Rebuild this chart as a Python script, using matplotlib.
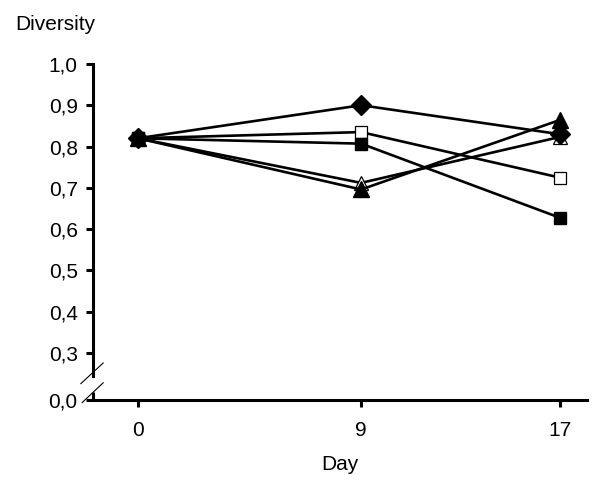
import numpy as np
import matplotlib.pyplot as plt

plt.rcParams['font.family'] = ['Liberation Sans', 'DejaVu Sans']

# data
days = [0, 9, 17]
diamond = [0.82, 0.90, 0.830]
open_square = [0.82, 0.835, 0.725]
filled_square = [0.82, 0.807, 0.628]
open_triangle = [0.82, 0.712, 0.823]
filled_triangle = [0.82, 0.696, 0.864]

ytick_vals = [0.3, 0.4, 0.5, 0.6, 0.7, 0.8, 0.9, 1.0]
ytick_labels = ['0,3', '0,4', '0,5', '0,6', '0,7', '0,8', '0,9', '1,0']

# axis is broken below 0,3; the "0,0" tick sits at this fake position
y_zero = 0.186
y_break_top = 0.244
y_break_bot = 0.205

fig = plt.figure(figsize=(6, 4.88), dpi=100)
ax = fig.add_axes([0.155, 0.180, 0.823, 0.689])

lw = 1.9
# open markers first so the filled ones sit on top where they overlap
ax.plot(days, open_square, color='black', lw=lw, marker='s', ms=9,
        mfc='white', mec='black', mew=0.9, zorder=2)
ax.plot(days, open_triangle, color='black', lw=lw, marker='^', ms=10,
        mfc='white', mec='black', mew=0.9, zorder=2)
ax.plot(days, filled_square, color='black', lw=lw, marker='s', ms=9,
        mfc='black', mec='black', zorder=3)
ax.plot(days, filled_triangle, color='black', lw=lw, marker='^', ms=11,
        mfc='black', mec='black', zorder=3)
ax.plot(days, diamond, color='black', lw=lw, marker='D', ms=10.5,
        mfc='black', mec='black', zorder=4)

ax.set_xlim(-1.81, 18.1)
ax.set_ylim(y_zero, 1.0)

ax.set_xticks(days)
ax.set_xticklabels([str(d) for d in days])
ax.set_yticks(ytick_vals + [y_zero])
ax.set_yticklabels(ytick_labels + ['0,0'])

for s in ['top', 'right']:
    ax.spines[s].set_visible(False)
ax.spines['left'].set_linewidth(2.2)
ax.spines['bottom'].set_linewidth(2.2)
ax.spines['left'].set_bounds(y_break_top, 1.0)

ax.tick_params(axis='both', length=5, width=2.2, labelsize=15, direction='out')
ax.tick_params(axis='y', pad=6)
ax.tick_params(axis='x', pad=10)

# lower piece of the broken y axis
ax.plot([-1.81, -1.81], [y_zero, y_break_bot], color='black', lw=2.2,
        clip_on=False, solid_capstyle='butt')
# break slashes
ax.plot([-2.3, -1.4], [0.226, 0.276], color='black', lw=0.8, clip_on=False)
ax.plot([-2.25, -1.4], [0.180, 0.228], color='black', lw=0.8, clip_on=False)

ax.set_xlabel('Day', fontsize=15, labelpad=11)
fig.text(15 / 600, 1 - 25 / 488, 'Diversity', fontsize=15, va='center', ha='left')

fig.savefig('out.png', dpi=100)
